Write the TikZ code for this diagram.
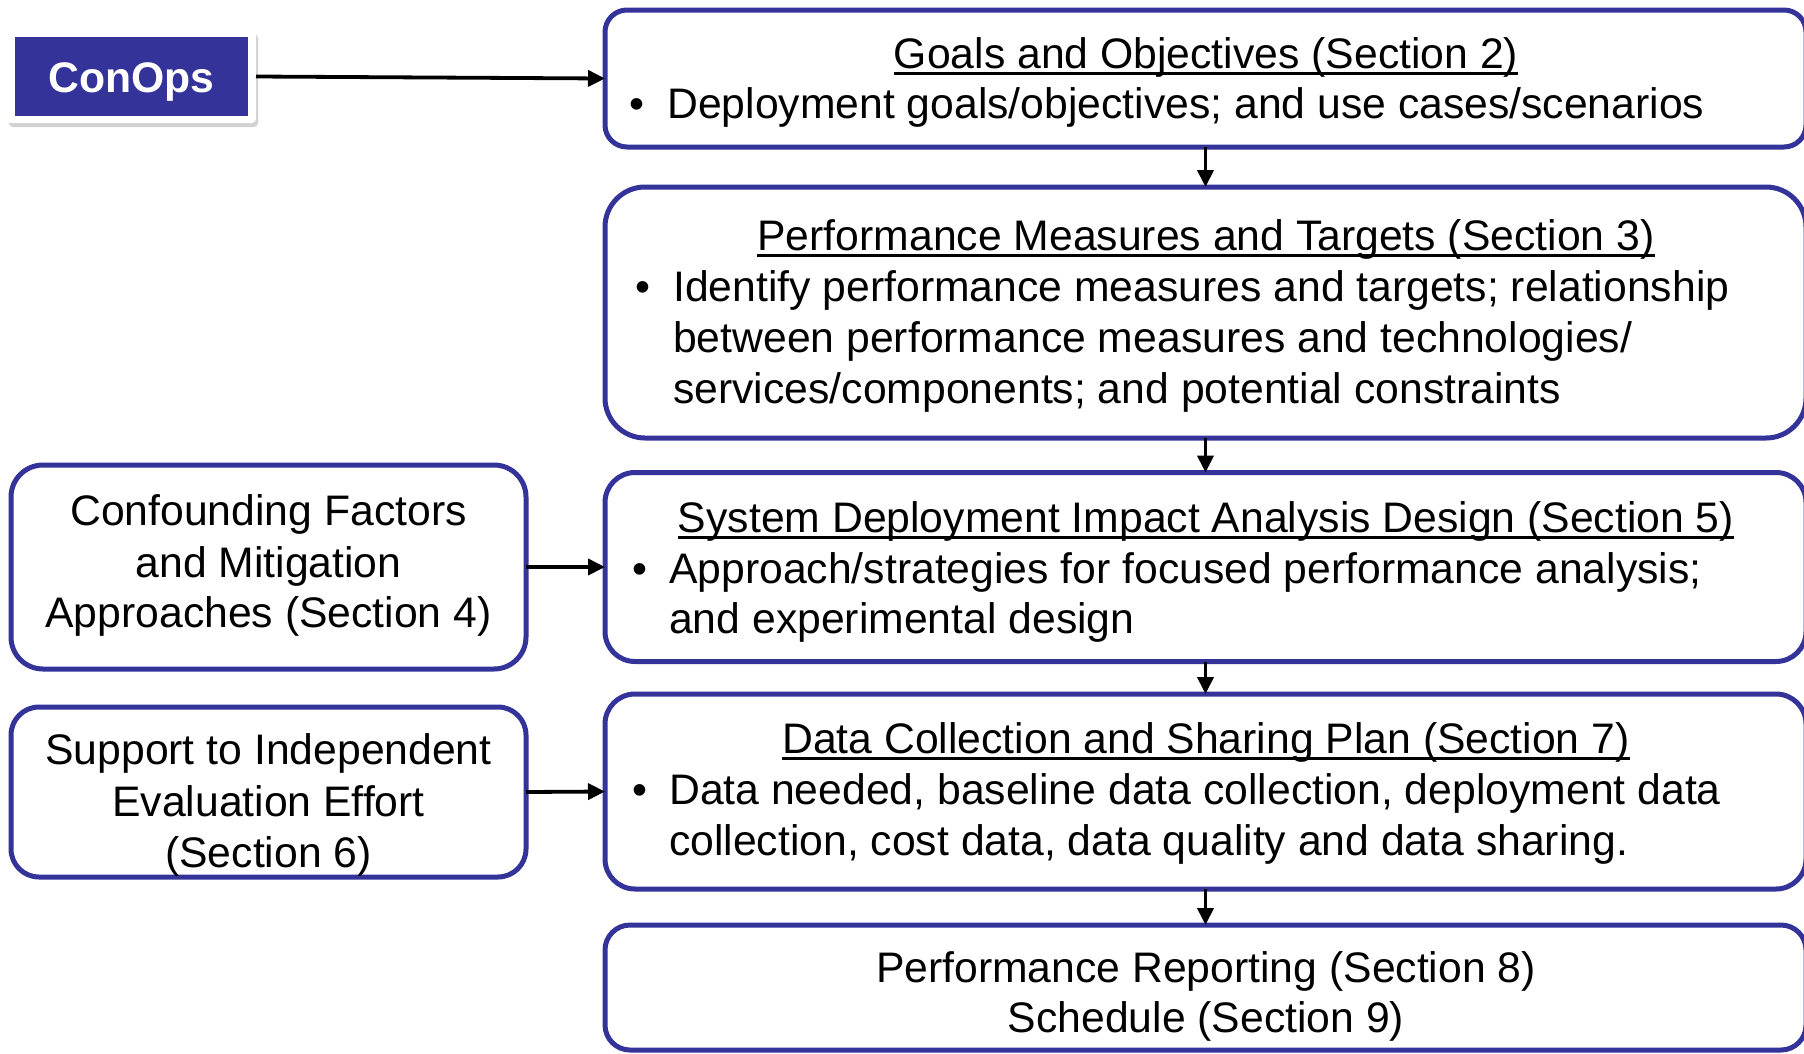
\documentclass[tikz,border=0pt]{standalone}
\usepackage{fontspec}
\setmainfont{Liberation Sans}
\usetikzlibrary{arrows.meta,shadows}
\definecolor{frameblue}{RGB}{51,51,153}
\newcommand{\myul}[1]{\setbox0\hbox{#1}\rlap{\rule[-6.5pt]{\wd0}{2.8pt}}\box0}
\begin{document}
\begin{tikzpicture}[x=1pt,y=-1pt,
  box/.style={draw=frameblue, line width=5pt, fill=white, inner sep=0pt, outer sep=0pt, rectangle},
  txt/.style={inner sep=0pt, font=\fontsize{42.7}{51}\selectfont, anchor=base},
  ltxt/.style={txt, anchor=base west},
  arr/.style={line width=3.8pt, -{Triangle[length=17pt,width=16pt]}}]
\useasboundingbox (0,0) rectangle (1804,1053);

% ConOps
\node[fill=white, rounded corners=4pt, minimum width=249pt, minimum height=93pt, inner sep=0pt, outer sep=0pt,
      drop shadow={shadow xshift=2pt, shadow yshift=-4pt, fill=black!40, opacity=0.45}] (conops) at (131.5,76.5) {};
\node[fill=frameblue, minimum width=233pt, minimum height=79pt, inner sep=0pt] (conopsfill) at (131.5,76.5) {};
\node[txt, text=white, font=\fontsize{42.7}{51}\selectfont\bfseries] (conopstxt) at (131.5,92) {ConOps};

% right column boxes
\node[box, rounded corners=22pt, minimum width=1201pt, minimum height=137pt] (goals) at (1205.5,78.5) {};
\node[box, rounded corners=40pt, minimum width=1201pt, minimum height=251pt] (perf) at (1205.5,312.5) {};
\node[box, rounded corners=30pt, minimum width=1201pt, minimum height=189pt] (sys) at (1205.5,567) {};
\node[box, rounded corners=30pt, minimum width=1201pt, minimum height=195pt] (data) at (1205.5,791.5) {};
\node[box, rounded corners=25pt, minimum width=1201pt, minimum height=125pt] (rep) at (1205.5,987.5) {};

% left column boxes
\node[box, rounded corners=32pt, minimum width=515pt, minimum height=204pt] (conf) at (268.5,567) {};
\node[box, rounded corners=28pt, minimum width=515pt, minimum height=170pt] (supp) at (268.5,792) {};

% goals text
\node[txt] (g0) at (1206,68) {\myul{Goals and Objectives (Section 2)}};
\node[txt] (gb) at (637,118) {•};
\node[ltxt] (g1) at (667,118) {Deployment goals/objectives; and use cases/scenarios};

% performance measures text
\node[txt] (p0) at (1206,250) {\myul{Performance Measures and Targets (Section 3)}};
\node[txt] (pb) at (643,301) {•};
\node[ltxt] (p1) at (673,301) {Identify performance measures and targets; relationship};
\node[ltxt] (p2) at (673,352) {between performance measures and technologies/};
\node[ltxt] (p3) at (673,403) {services/components; and potential constraints};

% system deployment text
\node[txt] (s0) at (1206,532) {\myul{System Deployment Impact Analysis Design (Section 5)}};
\node[txt] (sb) at (640,583) {•};
\node[ltxt] (s1) at (669,583) {Approach/strategies for focused performance analysis;};
\node[ltxt] (s2) at (669,633) {and experimental design};

% data collection text
\node[txt] (d0) at (1206,753) {\myul{Data Collection and Sharing Plan (Section 7)}};
\node[txt] (db) at (640,804) {•};
\node[ltxt] (d1) at (669,804) {Data needed, baseline data collection, deployment data};
\node[ltxt] (d2) at (669,855) {collection, cost data, data quality and data sharing.};

% reporting text
\node[txt] (r1) at (1206,982) {Performance Reporting (Section 8)};
\node[txt] (r2) at (1206,1032) {Schedule (Section 9)};

% left texts
\node[txt] (c1) at (268.5,525) {Confounding Factors};
\node[txt] (c2) at (268.5,577) {and Mitigation};
\node[txt] (c3) at (268.5,627) {Approaches (Section 4)};
\node[txt] (u1) at (268.5,764) {Support to Independent};
\node[txt] (u2) at (268.5,816) {Evaluation Effort};
\node[txt] (u3) at (268.5,867) {(Section 6)};

% connectors
\draw[arr] (conops.east) -- (goals.west);
\draw[arr] (goals.south) -- (perf.north);
\draw[arr] (perf.south) -- (sys.north);
\draw[arr] (sys.south) -- (data.north);
\draw[arr] (data.south) -- (rep.north);
\draw[arr] (conf.east) -- (sys.west);
\draw[arr] (supp.east) -- (data.west);
\end{tikzpicture}
\end{document}
